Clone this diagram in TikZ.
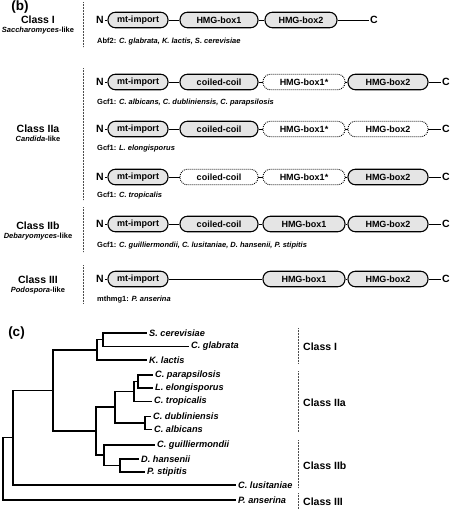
\documentclass[tikz,border=0pt]{standalone}
\usepackage{fontspec}
\setmainfont{Liberation Sans}
\begin{document}
\begin{tikzpicture}[x=1pt,y=-1pt,
  dom/.style={draw, line width=1.1pt, rounded corners=7.4pt, minimum height=15.5pt, inner sep=0pt, font=\bfseries\fontsize{9}{10}\selectfont, fill=gray!20},
  ghost/.style={dom, fill=white, dash pattern=on 0.9pt off 1.1pt, line width=0.9pt},
  link/.style={line width=0.9pt},
  term/.style={font=\bfseries\fontsize{10.5}{12}\selectfont, inner sep=1pt},
  cls/.style={font=\bfseries\fontsize{10.5}{12}\selectfont, inner sep=0pt},
  sub/.style={font=\bfseries\itshape\fontsize{7.5}{9}\selectfont, inner sep=0pt},
  note/.style={font=\bfseries\fontsize{7.5}{9}\selectfont, inner sep=0pt, anchor=west},
  panel/.style={font=\bfseries\fontsize{13.5}{15}\selectfont, inner sep=0pt},
  sep/.style={line width=0.6pt, dash pattern=on 0.6pt off 0.9pt, black!70},
  tree/.style={line width=1.2pt, line join=miter},
  leaf/.style={font=\bfseries\itshape\fontsize{9.2}{11}\selectfont, anchor=west, inner sep=2pt},
]
\useasboundingbox (0,0) rectangle (454,509);

% ---------- panel (b) ----------
\node[panel] (pb) at (20,7) {(b)};

% class labels
\node[cls] (clI) at (38,20) {Class I};
\node[sub] (sbI) at (38,31) {Saccharomyces\upshape-like};
\node[cls] (clIIa) at (38,129) {Class IIa};
\node[sub] (sbIIa) at (38,139) {Candida\upshape-like};
\node[cls] (clIIb) at (38,226) {Class IIb};
\node[sub] (sbIIb) at (38,237) {Debaryomyces\upshape-like};
\node[cls] (clIII) at (38,280) {Class III};
\node[sub] (sbIII) at (38,291) {Podospora\upshape-like};

% separators
\coordinate (s1a) at (83,2);   \coordinate (s1b) at (83,47);
\coordinate (s2a) at (83,68);  \coordinate (s2b) at (83,200);
\coordinate (s3a) at (83,207); \coordinate (s3b) at (83,252);
\coordinate (s4a) at (83,265); \coordinate (s4b) at (83,303);
\draw[sep] (s1a) -- (s1b);
\draw[sep] (s2a) -- (s2b);
\draw[sep] (s3a) -- (s3b);
\draw[sep] (s4a) -- (s4b);

% row 1
\node[term] (N1) at (100,20) {N};
\node[dom, minimum width=60pt] (r1a) at (138,20) {mt-import};
\node[dom, minimum width=78pt] (r1b) at (219,20) {HMG-box1};
\node[dom, minimum width=72pt] (r1c) at (301,20) {HMG-box2};
\node[term] (C1) at (374,20) {C};
\draw[link] (N1) -- (r1a);
\draw[link] (r1a) -- (r1b);
\draw[link] (r1b) -- (r1c);
\draw[link] (r1c) -- (C1);
\node[note] (t1) at (97,42) {Abf2: \itshape C. glabrata, K. lactis, S. cerevisiae};

% row 2
\node[term] (N2) at (100,82) {N};
\node[dom, minimum width=60pt] (r2a) at (138,82) {mt-import};
\node[dom, minimum width=78pt] (r2b) at (219,82) {coiled-coil};
\node[ghost, minimum width=82pt] (r2c) at (304,82) {HMG-box1*};
\node[dom, minimum width=80pt] (r2d) at (388,82) {HMG-box2};
\node[term] (C2) at (446,82) {C};
\draw[link] (N2) -- (r2a);
\draw[link] (r2a) -- (r2b);
\draw[link] (r2b) -- (r2c);
\draw[link] (r2c) -- (r2d);
\draw[link] (r2d) -- (C2);
\node[note] (t2) at (97,103) {Gcf1: \itshape C. albicans, C. dubliniensis, C. parapsilosis};

% row 3
\node[term] (N3) at (100,129) {N};
\node[dom, minimum width=60pt] (r3a) at (138,129) {mt-import};
\node[dom, minimum width=78pt] (r3b) at (219,129) {coiled-coil};
\node[ghost, minimum width=82pt] (r3c) at (304,129) {HMG-box1*};
\node[ghost, minimum width=80pt] (r3d) at (388,129) {HMG-box2};
\node[term] (C3) at (446,129) {C};
\draw[link] (N3) -- (r3a);
\draw[link] (r3a) -- (r3b);
\draw[link] (r3b) -- (r3c);
\draw[link] (r3c) -- (r3d);
\draw[link] (r3d) -- (C3);
\node[note] (t3) at (97,149) {Gcf1: \itshape L. elongisporus};

% row 4
\node[term] (N4) at (100,177) {N};
\node[dom, minimum width=60pt] (r4a) at (138,177) {mt-import};
\node[ghost, minimum width=78pt] (r4b) at (219,177) {coiled-coil};
\node[ghost, minimum width=82pt] (r4c) at (304,177) {HMG-box1*};
\node[dom, minimum width=80pt] (r4d) at (388,177) {HMG-box2};
\node[term] (C4) at (446,177) {C};
\draw[link] (N4) -- (r4a);
\draw[link] (r4a) -- (r4b);
\draw[link] (r4b) -- (r4c);
\draw[link] (r4c) -- (r4d);
\draw[link] (r4d) -- (C4);
\node[note] (t4) at (97,196) {Gcf1: \itshape C. tropicalis};

% row 5
\node[term] (N5) at (100,224) {N};
\node[dom, minimum width=60pt] (r5a) at (138,224) {mt-import};
\node[dom, minimum width=78pt] (r5b) at (219,224) {coiled-coil};
\node[dom, minimum width=82pt] (r5c) at (304,224) {HMG-box1};
\node[dom, minimum width=80pt] (r5d) at (388,224) {HMG-box2};
\node[term] (C5) at (446,224) {C};
\draw[link] (N5) -- (r5a);
\draw[link] (r5a) -- (r5b);
\draw[link] (r5b) -- (r5c);
\draw[link] (r5c) -- (r5d);
\draw[link] (r5d) -- (C5);
\node[note] (t5) at (97,246) {Gcf1: \itshape C. guilliermondii, C. lusitaniae, D. hansenii, P. stipitis};

% row 6
\node[term] (N6) at (100,279) {N};
\node[dom, minimum width=60pt] (r6a) at (138,279) {mt-import};
\node[dom, minimum width=82pt] (r6c) at (304,279) {HMG-box1};
\node[dom, minimum width=80pt] (r6d) at (388,279) {HMG-box2};
\node[term] (C6) at (446,279) {C};
\draw[link] (N6) -- (r6a);
\draw[link] (r6a) -- (r6c);
\draw[link] (r6c) -- (r6d);
\draw[link] (r6d) -- (C6);
\node[note] (t6) at (97,300) {mthmg1: \itshape P. anserina};

% ---------- panel (c) ----------
\node[panel] (pc) at (16.5,333) {(c)};

% leaves
\coordinate (Scer) at (147,333);
\coordinate (Cgla) at (189,346.5);
\coordinate (Klac) at (147,360);
\coordinate (Cpar) at (153,375);
\coordinate (Lelo) at (153,388);
\coordinate (Ctro) at (152,401.5);
\coordinate (Cdub) at (151,416.5);
\coordinate (Calb) at (152,429.5);
\coordinate (Cgui) at (155,445);
\coordinate (Dhan) at (139,459);
\coordinate (Psti) at (145,472);
\coordinate (Clus) at (236,485);
\coordinate (Pans) at (236,500);

% internal nodes
\coordinate (n1) at (103,339.75);
\coordinate (n2) at (97,350);
\coordinate (n3) at (138,381.5);
\coordinate (n4) at (134,391.5);
\coordinate (n5) at (145,423);
\coordinate (n6) at (115,407);
\coordinate (n7) at (120,465.5);
\coordinate (n8) at (104,455);
\coordinate (n9) at (96,431);
\coordinate (n10) at (53,390.5);
\coordinate (n11) at (13,437.75);
\coordinate (n12) at (3,468.9);

\draw[tree] (n1) |- (Scer);
\draw[tree] (n1) |- (Cgla);
\draw[tree] (n2) |- (n1);
\draw[tree] (n2) |- (Klac);
\draw[tree] (n3) |- (Cpar);
\draw[tree] (n3) |- (Lelo);
\draw[tree] (n4) |- (n3);
\draw[tree] (n4) |- (Ctro);
\draw[tree] (n5) |- (Cdub);
\draw[tree] (n5) |- (Calb);
\draw[tree] (n6) |- (n4);
\draw[tree] (n6) |- (n5);
\draw[tree] (n7) |- (Dhan);
\draw[tree] (n7) |- (Psti);
\draw[tree] (n8) |- (Cgui);
\draw[tree] (n8) |- (n7);
\draw[tree] (n9) |- (n6);
\draw[tree] (n9) |- (n8);
\draw[tree] (n10) |- (n2);
\draw[tree] (n10) |- (n9);
\draw[tree] (n11) |- (n10);
\draw[tree] (n11) |- (Clus);
\draw[tree] (n12) |- (n11);
\draw[tree] (n12) |- (Pans);

\node[leaf] (lScer) at (Scer) {S. cerevisiae};
\node[leaf] (lCgla) at (Cgla) {C. glabrata};
\node[leaf] (lKlac) at (Klac) {K. lactis};
\node[leaf] (lCpar) at (Cpar) {C. parapsilosis};
\node[leaf] (lLelo) at (Lelo) {L. elongisporus};
\node[leaf] (lCtro) at (Ctro) {C. tropicalis};
\node[leaf] (lCdub) at (Cdub) {C. dubliniensis};
\node[leaf] (lCalb) at (Calb) {C. albicans};
\node[leaf] (lCgui) at (Cgui) {C. guilliermondii};
\node[leaf] (lDhan) at (Dhan) {D. hansenii};
\node[leaf] (lPsti) at (Psti) {P. stipitis};
\node[leaf] (lClus) at (Clus) {C. lusitaniae};
\node[leaf] (lPans) at (Pans) {P. anserina};

% class brackets
\coordinate (k1a) at (298,328); \coordinate (k1b) at (298,363);
\coordinate (k2a) at (298,371); \coordinate (k2b) at (298,432);
\coordinate (k3a) at (298,440); \coordinate (k3b) at (298,488);
\coordinate (k4a) at (298,493); \coordinate (k4b) at (298,509);
\draw[sep] (k1a) -- (k1b);
\draw[sep] (k2a) -- (k2b);
\draw[sep] (k3a) -- (k3b);
\draw[sep] (k4a) -- (k4b);
\node[cls, anchor=west] (cI) at (303,347) {Class I};
\node[cls, anchor=west] (cIIa) at (303,403) {Class IIa};
\node[cls, anchor=west] (cIIb) at (303,466) {Class IIb};
\node[cls, anchor=west] (cIII) at (303,502) {Class III};
\end{tikzpicture}
\end{document}
